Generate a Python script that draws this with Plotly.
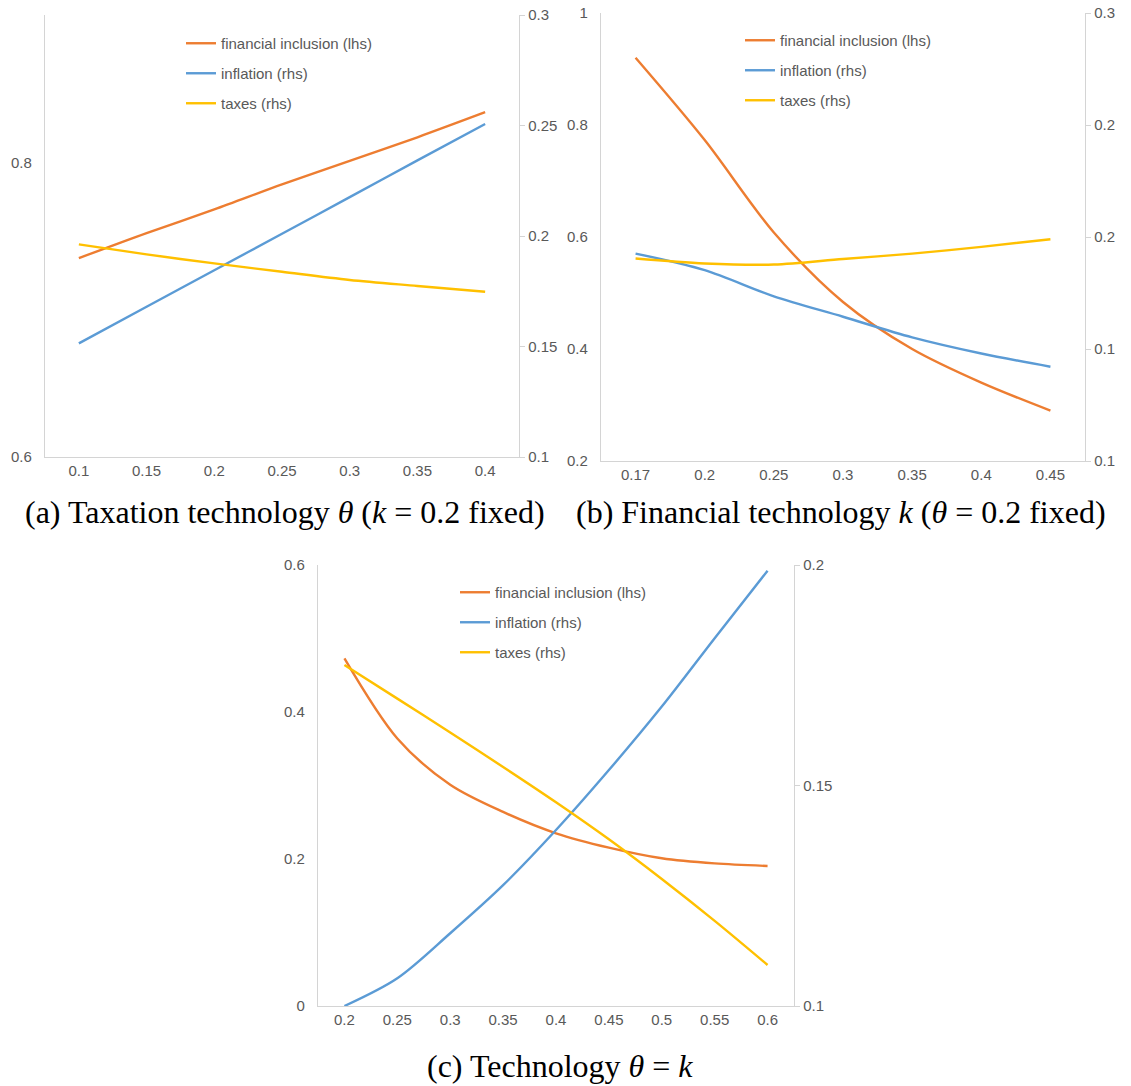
import plotly.graph_objects as go

W, H = 1131, 1086

# ---------------- data ----------------
series_names = ["financial inclusion (lhs)", "inflation (rhs)", "taxes (rhs)"]

# (a) Taxation technology theta (k = 0.2 fixed)
a_x = ["0.1", "0.15", "0.2", "0.25", "0.3", "0.35", "0.4"]
a_fin = [0.735, 0.752, 0.768, 0.785, 0.801, 0.817, 0.834]
a_infl = [0.1514, 0.168, 0.1845, 0.201, 0.2176, 0.2342, 0.2507]
a_tax = [0.1962, 0.1917, 0.1876, 0.1838, 0.1801, 0.1774, 0.1748]
a_left_ticks = [0.6, 0.8]
a_left_text = ["0.6", "0.8"]
a_right_ticks = [0.1, 0.15, 0.2, 0.25, 0.3]
a_right_text = ["0.1", "0.15", "0.2", "0.25", "0.3"]

# (b) Financial technology k (theta = 0.2 fixed)
b_x = ["0.17", "0.2", "0.25", "0.3", "0.35", "0.4", "0.45"]
b_fin = [0.920, 0.773, 0.608, 0.484, 0.400, 0.340, 0.290]
b_infl = [0.1926, 0.1852, 0.1735, 0.1644, 0.1552, 0.1480, 0.1421]
b_tax = [0.1904, 0.1882, 0.1877, 0.1902, 0.1926, 0.1956, 0.1990]
b_left_ticks = [0.2, 0.4, 0.6, 0.8, 1.0]
b_left_text = ["0.2", "0.4", "0.6", "0.8", "1"]
b_right_ticks = [0.1, 0.15, 0.2, 0.25, 0.3]
b_right_text = ["0.1", "0.1", "0.2", "0.2", "0.3"]

# (c) Technology theta = k
c_x = ["0.2", "0.25", "0.3", "0.35", "0.4", "0.45", "0.5", "0.55", "0.6"]
c_fin = [0.473, 0.364, 0.301, 0.264, 0.235, 0.2155, 0.201, 0.194, 0.1905]
c_infl = [0.100, 0.1063, 0.1165, 0.1274, 0.1399, 0.1535, 0.1679, 0.1834, 0.1987]
c_tax = [0.1773, 0.1697, 0.1620, 0.1542, 0.1462, 0.1378, 0.1288, 0.1193, 0.1093]
c_left_ticks = [0, 0.2, 0.4, 0.6]
c_left_text = ["0", "0.2", "0.4", "0.6"]
c_right_ticks = [0.1, 0.15, 0.2]
c_right_text = ["0.1", "0.15", "0.2"]

captions = [
    "(a) Taxation technology <i>θ</i> (<i>k</i> = 0.2 fixed)",
    "(b) Financial technology <i>k</i> (<i>θ</i> = 0.2 fixed)",
    "(c) Technology <i>θ</i> = <i>k</i>",
]

colors = ["#ED7D31", "#5B9BD5", "#FFC000"]
axis_col = "#D4D4D4"
txt_col = "#595959"
tick_font = dict(family="Liberation Sans, Arial, sans-serif", size=15, color=txt_col)


def px_x(p):
    return p / W


def px_y(p):
    return 1 - p / H


panels = [
    dict(x=a_x, fin=a_fin, infl=a_infl, tax=a_tax,
         lrange=[0.6, 0.9], lt=a_left_ticks, ltt=a_left_text,
         rrange=[0.1, 0.3], rt=a_right_ticks, rtt=a_right_text,
         dom_x=[px_x(45), px_x(519)], dom_y=[px_y(457), px_y(15)],
         leg=(181, 27)),
    dict(x=b_x, fin=b_fin, infl=b_infl, tax=b_tax,
         lrange=[0.2, 1.0], lt=b_left_ticks, ltt=b_left_text,
         rrange=[0.1, 0.3], rt=b_right_ticks, rtt=b_right_text,
         dom_x=[px_x(601), px_x(1085)], dom_y=[px_y(461), px_y(13)],
         leg=(740, 24)),
    dict(x=c_x, fin=c_fin, infl=c_infl, tax=c_tax,
         lrange=[0, 0.6], lt=c_left_ticks, ltt=c_left_text,
         rrange=[0.1, 0.2], rt=c_right_ticks, rtt=c_right_text,
         dom_x=[px_x(318), px_x(794)], dom_y=[px_y(1006), px_y(565)],
         leg=(455, 576)),
]

fig = go.Figure()
layout = {}

for i, p in enumerate(panels):
    xi = i + 1
    yl = 2 * i + 1
    yr = 2 * i + 2
    xname = "x" if xi == 1 else f"x{xi}"
    yl_name = "y" if yl == 1 else f"y{yl}"
    yr_name = f"y{yr}"
    legname = "legend" if i == 0 else f"legend{i + 1}"
    ys = [p["fin"], p["infl"], p["tax"]]
    for j in range(3):
        fig.add_trace(go.Scatter(
            x=p["x"], y=ys[j], mode="lines", name=series_names[j],
            line=dict(color=colors[j], width=2.4, shape="spline", smoothing=0.9),
            xaxis=xname, yaxis=yl_name if j == 0 else yr_name,
            legend=legname, legendgroup=f"g{i}{j}", showlegend=True,
        ))
    n = len(p["x"])
    layout[f"xaxis{'' if xi == 1 else xi}"] = dict(
        domain=p["dom_x"], anchor=yl_name, type="category", automargin=False,
        range=[-0.5, n - 0.5], showline=True, linecolor=axis_col, linewidth=1.3,
        showgrid=False, zeroline=False, ticks="", tickfont=tick_font,
        fixedrange=True,
    )
    layout[f"yaxis{'' if yl == 1 else yl}"] = dict(
        domain=p["dom_y"], anchor=xname, range=p["lrange"], automargin=False,
        tickvals=p["lt"], ticktext=p["ltt"], showline=True, linecolor=axis_col,
        linewidth=1.3, showgrid=False, zeroline=False, ticks="",
        tickfont=tick_font, ticklabelstandoff=9,
    )
    layout[f"yaxis{yr}"] = dict(
        overlaying=yl_name, anchor=xname, side="right", range=p["rrange"],
        automargin=False,
        tickvals=p["rt"], ticktext=p["rtt"], showline=True, linecolor=axis_col,
        linewidth=1.3, showgrid=False, zeroline=False, ticks="outside",
        ticklen=5, tickcolor=axis_col, tickwidth=1.3, tickfont=tick_font,
    )
    lx, ly = p["leg"]
    layout[legname] = dict(
        x=px_x(lx), y=px_y(ly), xanchor="left", yanchor="top",
        bgcolor="rgba(0,0,0,0)", font=tick_font, tracegroupgap=7.5,
        traceorder="grouped",
    )

cap_pos = [(285, 512), (841, 512), (560, 1066)]
annotations = []
for t, (cx, cy) in zip(captions, cap_pos):
    annotations.append(dict(
        text=t, x=px_x(cx), y=px_y(cy), xref="paper", yref="paper",
        xanchor="center", yanchor="middle", showarrow=False,
        font=dict(family="Liberation Serif, serif", size=32, color="#000000"),
    ))

fig.update_layout(
    width=W, height=H, margin=dict(l=0, r=0, t=0, b=0),
    paper_bgcolor="white", plot_bgcolor="white",
    annotations=annotations, **layout,
)

fig.write_html(
    "out.html",
    config={"displayModeBar": False},
    post_script="document.body.style.margin='0';document.body.style.overflow='hidden';",
)
